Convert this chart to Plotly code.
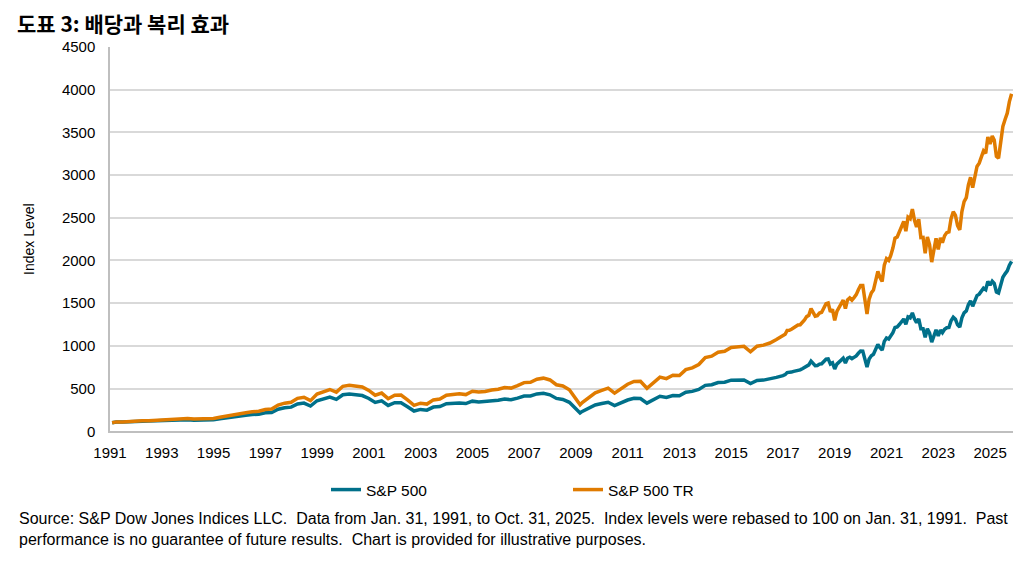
import pandas as pd
import plotly.graph_objects as go

# Month of each observation (month-end values); quarterly to 2016, monthly from 2017
months = [
    "1991-01", "1991-03", "1991-06", "1991-09", "1991-12",
    "1992-03", "1992-06", "1992-09", "1992-12",
    "1993-03", "1993-06", "1993-09", "1993-12",
    "1994-03", "1994-06", "1994-09", "1994-12",
    "1995-03", "1995-06", "1995-09", "1995-12",
    "1996-03", "1996-06", "1996-09", "1996-12",
    "1997-03", "1997-06", "1997-09", "1997-12",
    "1998-03", "1998-06", "1998-09", "1998-12",
    "1999-03", "1999-06", "1999-09", "1999-12",
    "2000-03", "2000-06", "2000-09", "2000-12",
    "2001-03", "2001-06", "2001-09", "2001-12",
    "2002-03", "2002-06", "2002-09", "2002-12",
    "2003-03", "2003-06", "2003-09", "2003-12",
    "2004-03", "2004-06", "2004-09", "2004-12",
    "2005-03", "2005-06", "2005-09", "2005-12",
    "2006-03", "2006-06", "2006-09", "2006-12",
    "2007-03", "2007-06", "2007-09", "2007-12",
    "2008-03", "2008-06", "2008-09", "2008-12",
    "2009-02", "2009-03", "2009-06", "2009-09", "2009-12",
    "2010-03", "2010-06", "2010-09", "2010-12",
    "2011-03", "2011-06", "2011-09", "2011-12",
    "2012-03", "2012-06", "2012-09", "2012-12",
    "2013-03", "2013-06", "2013-09", "2013-12",
    "2014-03", "2014-06", "2014-09", "2014-12",
    "2015-03", "2015-06", "2015-09", "2015-12",
    "2016-03", "2016-06", "2016-09", "2016-12",
    "2017-01", "2017-02", "2017-03", "2017-04", "2017-05", "2017-06",
    "2017-07", "2017-08", "2017-09", "2017-10", "2017-11", "2017-12",
    "2018-01", "2018-02", "2018-03", "2018-04", "2018-05", "2018-06",
    "2018-07", "2018-08", "2018-09", "2018-10", "2018-11", "2018-12",
    "2019-01", "2019-02", "2019-03", "2019-04", "2019-05", "2019-06",
    "2019-07", "2019-08", "2019-09", "2019-10", "2019-11", "2019-12",
    "2020-01", "2020-02", "2020-03", "2020-04", "2020-05", "2020-06",
    "2020-07", "2020-08", "2020-09", "2020-10", "2020-11", "2020-12",
    "2021-01", "2021-02", "2021-03", "2021-04", "2021-05", "2021-06",
    "2021-07", "2021-08", "2021-09", "2021-10", "2021-11", "2021-12",
    "2022-01", "2022-02", "2022-03", "2022-04", "2022-05", "2022-06",
    "2022-07", "2022-08", "2022-09", "2022-10", "2022-11", "2022-12",
    "2023-01", "2023-02", "2023-03", "2023-04", "2023-05", "2023-06",
    "2023-07", "2023-08", "2023-09", "2023-10", "2023-11", "2023-12",
    "2024-01", "2024-02", "2024-03", "2024-04", "2024-05", "2024-06",
    "2024-07", "2024-08", "2024-09", "2024-10", "2024-11", "2024-12",
    "2025-01", "2025-02", "2025-03", "2025-04", "2025-05", "2025-06",
    "2025-07", "2025-08", "2025-09", "2025-10",
]

sp500 = [
    100.0, 109.1, 107.9, 112.8, 121.3,
    117.4, 118.7, 121.5, 126.7,
    131.3, 131.0, 133.4, 135.6,
    129.6, 129.2, 134.5, 133.5,
    145.6, 158.4, 169.9, 179.1,
    187.7, 195.0, 199.8, 215.4,
    220.1, 257.4, 275.4, 282.2,
    320.3, 329.7, 295.7, 357.4,
    374.0, 399.1, 373.0, 427.2,
    435.7, 422.9, 417.7, 383.9,
    337.4, 356.0, 302.7, 333.8,
    333.6, 287.8, 237.0, 255.8,
    246.6, 283.3, 289.6, 323.3,
    327.5, 331.7, 324.1, 352.4,
    343.3, 346.4, 357.3, 362.9,
    376.5, 369.3, 388.4, 412.4,
    413.1, 437.1, 443.9, 426.9,
    384.6, 372.2, 339.1, 262.6,
    213.7, 232.0, 267.3, 307.4, 324.2,
    340.0, 299.7, 331.8, 365.7,
    385.5, 384.0, 329.0, 365.7,
    409.5, 396.1, 418.9, 414.7,
    456.3, 467.0, 488.9, 537.4,
    544.4, 569.9, 573.5, 598.6,
    601.2, 599.9, 558.3, 594.3,
    598.9, 610.3, 630.4, 650.9,
    662.6, 687.2, 687.0, 693.2, 701.2, 704.6,
    718.3, 718.7, 732.5, 748.8, 769.8, 777.4,
    821.0, 789.1, 767.9, 769.9, 786.6, 790.4,
    818.9, 843.6, 847.3, 788.5, 802.5, 728.9,
    786.2, 809.6, 824.1, 856.5, 800.2, 855.3,
    866.6, 850.9, 865.5, 883.2, 913.3, 939.4,
    937.8, 859.0, 751.5, 846.8, 885.2, 901.4,
    951.1, 1017.7, 977.8, 950.8, 1053.0, 1092.1,
    1079.9, 1108.1, 1155.2, 1215.7, 1222.4, 1249.5,
    1278.0, 1315.0, 1252.4, 1339.1, 1327.9, 1385.8,
    1312.9, 1271.8, 1317.2, 1201.4, 1201.5, 1100.6,
    1200.9, 1149.9, 1042.5, 1125.8, 1186.3, 1116.4,
    1185.3, 1154.3, 1194.8, 1212.3, 1215.3, 1294.0,
    1334.3, 1310.6, 1246.8, 1219.4, 1328.1, 1386.9,
    1408.9, 1481.8, 1527.7, 1464.2, 1534.5, 1587.7,
    1605.6, 1642.3, 1675.5, 1658.9, 1754.0, 1710.1,
    1756.3, 1731.3, 1631.7, 1619.3, 1718.9, 1804.1,
    1843.2, 1878.4, 1944.7, 1988.8,
]

sp500_tr = [
    100.0, 109.7, 109.4, 115.3, 125.0,
    121.9, 124.2, 128.0, 134.5,
    140.4, 141.0, 144.6, 148.0,
    142.5, 143.1, 150.0, 149.9,
    164.6, 180.2, 194.5, 206.4,
    217.5, 227.2, 234.1, 253.8,
    260.5, 306.0, 328.8, 338.4,
    385.6, 398.4, 358.7, 435.1,
    456.7, 488.9, 458.4, 526.6,
    538.7, 524.4, 519.4, 478.7,
    422.1, 446.9, 381.2, 421.8,
    423.2, 366.7, 303.2, 328.6,
    318.2, 367.2, 377.1, 422.8,
    430.2, 437.6, 429.4, 468.9,
    458.9, 465.1, 482.0, 491.8,
    512.6, 505.2, 533.9, 569.5,
    573.2, 609.3, 621.7, 600.7,
    544.4, 530.0, 485.8, 378.4,
    309.2, 336.4, 389.9, 451.1, 478.6,
    504.5, 446.9, 497.3, 550.8,
    583.7, 584.4, 503.4, 562.4,
    633.4, 616.1, 655.2, 652.3,
    721.6, 742.5, 781.5, 863.5,
    879.3, 925.2, 935.7, 981.6,
    991.1, 994.3, 930.2, 995.3,
    1008.6, 1033.4, 1073.3, 1114.2,
    1136.2, 1180.3, 1182.0, 1194.6, 1210.4, 1218.3,
    1244.1, 1246.9, 1272.9, 1303.4, 1342.2, 1357.6,
    1436.2, 1382.6, 1347.7, 1353.4, 1385.0, 1394.0,
    1446.7, 1492.8, 1501.8, 1399.8, 1426.9, 1298.2,
    1402.6, 1446.8, 1475.1, 1535.7, 1437.2, 1538.8,
    1561.7, 1536.0, 1564.9, 1599.6, 1656.8, 1707.0,
    1706.7, 1565.7, 1371.9, 1548.2, 1620.9, 1653.0,
    1746.8, 1872.0, 1801.3, 1754.2, 1945.7, 2021.1,
    2000.8, 2055.5, 2145.4, 2260.5, 2275.6, 2328.8,
    2384.7, 2456.7, 2342.5, 2507.6, 2489.5, 2601.1,
    2467.8, 2393.8, 2482.7, 2267.4, 2270.7, 2082.9,
    2275.8, 2182.2, 1981.1, 2142.2, 2260.4, 2130.1,
    2264.6, 2208.5, 2289.1, 2325.9, 2334.8, 2489.4,
    2570.6, 2528.3, 2408.6, 2358.8, 2572.6, 2690.2,
    2736.1, 2880.9, 2973.7, 2853.3, 2993.8, 3101.1,
    3139.6, 3215.1, 3283.8, 3255.1, 3445.6, 3363.1,
    3457.6, 3411.9, 3219.0, 3197.8, 3398.1, 3570.1,
    3651.4, 3724.9, 3860.4, 3952.0,
]

series_names = ["S&P 500", "S&P 500 TR"]
title_text = "도표 3: 배당과 복리 효과"
y_title = "Index Level"
GAP = "&nbsp; "
source_text = ("Source: S&P Dow Jones Indices LLC." + GAP + "Data from Jan. 31, 1991, to Oct. 31, 2025." + GAP +
               "Index levels were rebased to 100 on Jan. 31, 1991." + GAP + "Past<br>"
               "performance is no guarantee of future results." + GAP + "Chart is provided for illustrative purposes.")

dates = pd.to_datetime(months) + pd.offsets.MonthEnd(0)

TEAL = "#00708A"
ORANGE = "#E07B00"
FONT = "Arial, Liberation Sans, sans-serif"

W, H = 1017, 545
L, R, T, B = 102, 12, 39, 117
PW, PH = W - L - R, H - T - B

fig = go.Figure()
fig.add_trace(go.Scatter(x=dates, y=sp500, name=series_names[0], mode="lines",
                         line=dict(color=TEAL, width=3.5)))
fig.add_trace(go.Scatter(x=dates, y=sp500_tr, name=series_names[1], mode="lines",
                         line=dict(color=ORANGE, width=3.5)))

fig.update_layout(
    width=W, height=H,
    margin=dict(l=L, r=R, t=T, b=B),
    paper_bgcolor="white", plot_bgcolor="white",
    font=dict(family=FONT, size=15, color="#000000"),
    title=dict(text="<b>" + title_text + "</b>", xref="container", yref="container",
               x=9 / W, xanchor="left", y=1 - 17.1 / H, yanchor="middle",
               font=dict(family="Noto Sans CJK KR, sans-serif", size=21, color="#000000")),
    showlegend=True,
    legend=dict(orientation="h", xref="container", yref="container",
                x=318 / W, xanchor="left", y=1 - 482 / H, yanchor="middle",
                entrywidth=197, entrywidthmode="pixels",
                font=dict(family=FONT, size=15.5, color="#000000"),
                bgcolor="rgba(0,0,0,0)"),
    annotations=[dict(text=source_text, xref="paper", yref="paper",
                      x=(9 - L) / PW, xanchor="left", y=-78 / PH, yanchor="top",
                      align="left", showarrow=False,
                      font=dict(family=FONT, size=16, color="#000000"))],
)

fig.update_xaxes(type="date", range=["1991-01-01", "2025-11-20"],
                 tick0="1991-01-01", dtick="M24", tickformat="%Y",
                 showgrid=False, showline=True, linecolor="#BFBFBF", linewidth=1.5,
                 ticks="outside", ticklen=7, tickcolor="rgba(0,0,0,0)",
                 tickfont=dict(family=FONT, size=15, color="#000000"), zeroline=False)
fig.update_yaxes(range=[0, 4500], dtick=500, tick0=0,
                 showgrid=True, gridcolor="#D9D9D9", gridwidth=1.5,
                 showline=True, linecolor="#BFBFBF", linewidth=1.5, zeroline=False,
                 ticks="outside", ticklen=10, tickcolor="rgba(0,0,0,0)",
                 tickfont=dict(family=FONT, size=15, color="#000000"),
                 title=dict(text=y_title, standoff=24,
                            font=dict(family=FONT, size=14, color="#000000")))

fig.write_html("out.html")
